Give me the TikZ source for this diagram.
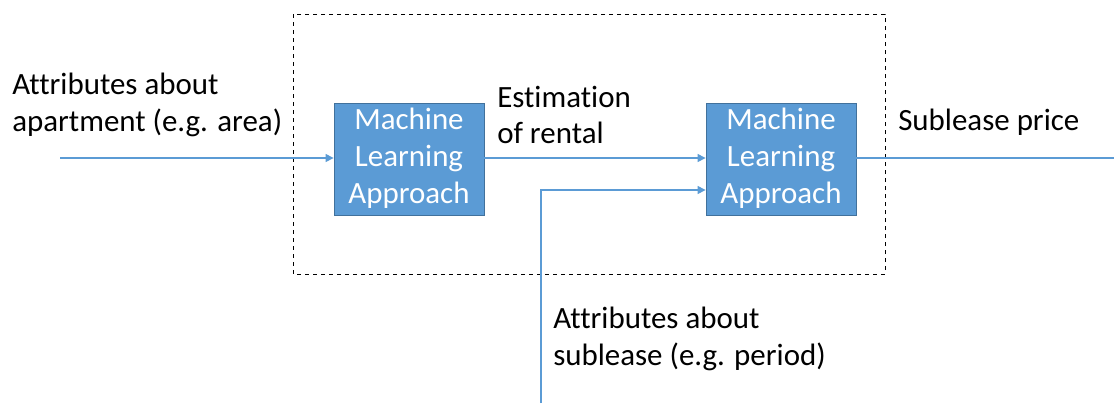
\documentclass[tikz,border=0pt]{standalone}
\usepackage{fontspec}
\setmainfont[Ligatures=NoCommon]{Carlito}
\usetikzlibrary{arrows.meta}
\definecolor{obl}{HTML}{5B9BD5}
\definecolor{obd}{HTML}{41719C}
\tikzset{
  mlbox/.style={draw=obd, fill=obl, text=white, minimum width=112.5pt, minimum height=81pt, align=center, font=\fontsize{23.2}{28}\selectfont, inner sep=0pt, line width=0.6pt},
  lbl/.style={align=left, anchor=west, font=\fontsize{23.2}{27.5}\selectfont, inner sep=0pt},
  conn/.style={draw=obl, line width=0.8pt, -{Triangle[length=6pt,width=6pt]}},
  plain/.style={draw=obl, line width=0.8pt},
}
\begin{document}
\begin{tikzpicture}[x=0.75pt,y=-0.75pt]
\useasboundingbox (0,0) rectangle (1114,404);
\draw[dashed, line width=0.6pt] (293,14) rectangle (885,274);
\node[mlbox] (m1) at (409,159) {\raisebox{-2pt}{\begin{tabular}{@{}c@{}}Machine\\Learning\\Approach\end{tabular}}};
\node[mlbox] (m2) at (781,159) {\raisebox{-2pt}{\begin{tabular}{@{}c@{}}Machine\\Learning\\Approach\end{tabular}}};
\coordinate (inA) at (60,158);
\coordinate (inB) at (541,403);
\coordinate (out) at (1114,158);
\draw[conn] (inA) -- (m1.west |- inA);
\draw[conn] (m1.east |- 0,158) -- (m2.west |- 0,158);
\draw[conn] (inB) |- (m2.west |- 0,190);
\draw[plain] (m2.east |- out) -- (out);
\node[lbl] (t1) at (12,105) {Attributes about\\apartment (e.g. area)};
\node[lbl] (t2) at (497,115) {Estimation\\of rental};
\node[lbl] (t3) at (898,122) {Sublease price};
\node[lbl] (t4) at (553,339) {Attributes about\\sublease (e.g. period)};
\end{tikzpicture}
\end{document}
